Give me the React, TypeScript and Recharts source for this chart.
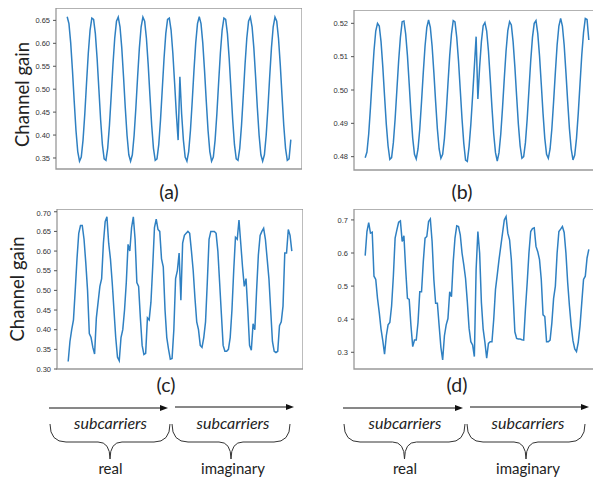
import { LineChart, Line, XAxis, YAxis, ReferenceArea } from "recharts";

// channel gain per subcarrier index: 64 real parts followed by 64 imaginary parts
const gainA = [
    0.658, 0.643, 0.601, 0.541, 0.473, 0.41, 0.364, 0.343, 0.352, 0.389,
    0.446, 0.514, 0.579, 0.629, 0.655, 0.652, 0.621, 0.567, 0.5, 0.433,
    0.379, 0.348, 0.345, 0.371, 0.421, 0.486, 0.554, 0.611, 0.648, 0.657,
    0.636, 0.59, 0.527, 0.459, 0.399, 0.357, 0.343, 0.357, 0.399, 0.459,
    0.527, 0.59, 0.636, 0.657, 0.648, 0.611, 0.554, 0.486, 0.421, 0.371,
    0.345, 0.348, 0.379, 0.433, 0.5, 0.567, 0.621, 0.652, 0.655, 0.629,
    0.579, 0.514, 0.446, 0.389,
    0.527, 0.446, 0.389, 0.352, 0.343, 0.364, 0.41, 0.473, 0.541, 0.601, 0.643, 0.658,
    0.643, 0.601, 0.541, 0.473, 0.41, 0.364, 0.343, 0.352, 0.389, 0.446, 0.514, 0.579, 0.629, 0.655,
    0.652, 0.621, 0.567, 0.5, 0.433, 0.379, 0.348, 0.345, 0.371, 0.421, 0.486, 0.554, 0.611, 0.648,
    0.657, 0.636, 0.59, 0.527, 0.459, 0.399, 0.357, 0.343, 0.357, 0.399, 0.459, 0.527, 0.59, 0.636,
    0.657, 0.648, 0.611, 0.554, 0.486, 0.421, 0.371, 0.345, 0.348, 0.39,
];

const gainB = [
    0.4797, 0.4814, 0.4868, 0.4947, 0.5035, 0.5117, 0.5177, 0.52, 0.5192, 0.5145,
    0.507, 0.4982, 0.4897, 0.4832, 0.4792, 0.4797, 0.4842, 0.4913, 0.5, 0.5087,
    0.5158, 0.5205, 0.5207, 0.5168, 0.5103, 0.5018, 0.493, 0.4855, 0.4807, 0.4793,
    0.4823, 0.4883, 0.4965, 0.5053, 0.5132, 0.5188, 0.521, 0.5188, 0.5132, 0.5053,
    0.4965, 0.4883, 0.4823, 0.4795, 0.4807, 0.4855, 0.493, 0.5018, 0.5103, 0.5168,
    0.5208, 0.5204, 0.5158, 0.5087, 0.5, 0.4913, 0.484, 0.479, 0.4786, 0.483,
    0.4897, 0.4982, 0.507, 0.516, 0.4973, 0.507, 0.5145, 0.5193, 0.5202, 0.5177,
    0.5117, 0.5035, 0.4947, 0.4868, 0.4812, 0.4787, 0.4812, 0.4868, 0.4947, 0.5035,
    0.5117, 0.5178, 0.5205, 0.5195, 0.5145, 0.507, 0.4982, 0.4897, 0.4832, 0.4795,
    0.48, 0.4842, 0.4913, 0.5, 0.5087, 0.5158, 0.52, 0.5208, 0.517, 0.5103,
    0.5018, 0.493, 0.4855, 0.4807, 0.4795, 0.4823, 0.4883, 0.4965, 0.5053, 0.5135,
    0.5192, 0.5215, 0.5192, 0.5135, 0.5053, 0.4965, 0.4883, 0.4823, 0.479, 0.4805,
    0.4855, 0.493, 0.5018, 0.5105, 0.5172, 0.5215, 0.5212, 0.515,
];

const gainC = [
    0.319, 0.37, 0.4, 0.425, 0.5, 0.58, 0.645, 0.665, 0.665, 0.63,
    0.57, 0.5, 0.39, 0.38, 0.355, 0.338, 0.43, 0.47, 0.51, 0.53,
    0.62, 0.675, 0.687, 0.62, 0.58, 0.52, 0.45, 0.38, 0.33, 0.321,
    0.38, 0.4, 0.45, 0.52, 0.617, 0.6, 0.66, 0.687, 0.63, 0.52,
    0.51, 0.43, 0.36, 0.337, 0.34, 0.43, 0.425, 0.47, 0.56, 0.66,
    0.681, 0.655, 0.65, 0.58, 0.56, 0.45, 0.38, 0.35, 0.325, 0.327,
    0.4, 0.53, 0.55, 0.595, 0.475, 0.62, 0.64, 0.645, 0.65, 0.645,
    0.6, 0.55, 0.48, 0.42, 0.4, 0.36, 0.355, 0.38, 0.42, 0.52,
    0.63, 0.65, 0.65, 0.65, 0.645, 0.6, 0.52, 0.44, 0.36, 0.345,
    0.345, 0.35, 0.38, 0.45, 0.55, 0.635, 0.63, 0.679, 0.62, 0.56,
    0.51, 0.53, 0.45, 0.36, 0.348, 0.415, 0.4, 0.5, 0.59, 0.64,
    0.65, 0.658, 0.63, 0.58, 0.53, 0.45, 0.37, 0.345, 0.342, 0.345,
    0.41, 0.42, 0.46, 0.595, 0.595, 0.655, 0.64, 0.6,
];

const gainD = [
    0.592, 0.665, 0.692, 0.66, 0.663, 0.53, 0.52, 0.463, 0.42, 0.37,
    0.335, 0.294, 0.35, 0.383, 0.39, 0.44, 0.53, 0.645, 0.67, 0.693,
    0.697, 0.635, 0.652, 0.55, 0.463, 0.46, 0.38, 0.317, 0.337, 0.337,
    0.39, 0.483, 0.483, 0.574, 0.645, 0.65, 0.695, 0.703, 0.635, 0.52,
    0.448, 0.448, 0.38, 0.315, 0.277, 0.35, 0.383, 0.402, 0.483, 0.468,
    0.574, 0.645, 0.682, 0.68, 0.655, 0.6, 0.564, 0.523, 0.453, 0.373,
    0.332, 0.322, 0.287, 0.55, 0.665, 0.6, 0.45, 0.37, 0.33, 0.282,
    0.327, 0.332, 0.332, 0.4, 0.49, 0.534, 0.58, 0.62, 0.66, 0.7,
    0.71, 0.66, 0.64, 0.58, 0.473, 0.362, 0.342, 0.34, 0.34, 0.338,
    0.337, 0.43, 0.51, 0.6, 0.665, 0.674, 0.676, 0.62, 0.604, 0.58,
    0.52, 0.413, 0.408, 0.332, 0.332, 0.337, 0.388, 0.463, 0.5, 0.6,
    0.665, 0.672, 0.68, 0.662, 0.6, 0.51, 0.44, 0.38, 0.335, 0.31,
    0.302, 0.33, 0.38, 0.45, 0.52, 0.53, 0.585, 0.611,
];

const xTicks = [0, 20, 40, 60, 80, 100, 120];
const yTicksA = [0.35, 0.4, 0.45, 0.5, 0.55, 0.6, 0.65];
const yTicksB = [0.48, 0.49, 0.5, 0.51, 0.52];
const yTicksC = [0.3, 0.35, 0.4, 0.45, 0.5, 0.55, 0.6, 0.65, 0.7];
const yTicksD = [0.3, 0.4, 0.5, 0.6, 0.7];

const captions = ["(a)", "(b)", "(c)", "(d)"];
const axisTitle = "Channel gain";
const arrowWord = "subcarriers";
const partNames = ["real", "imaginary"];

const X_DOMAIN: [number, number] = [-6.35, 133.35];
const PLOT_W = 246;
const AXIS_W = 50;
const XAXIS_H = 8;
const LINE_COLOR = "#2f80c2";
const TEXT_FONT = "Lato, 'Open Sans', sans-serif";

interface PanelProps {
    values: number[];
    left: number;
    top: number;
    height: number;
    domain: [number, number];
    ticks: number[];
    digits: number;
}

const GainPanel = ({ values, left, top, height, domain, ticks, digits }: PanelProps) => {
    const rows = values.map((v, i) => ({ i, v }));
    return (
        <div style={{ position: "absolute", left: left - AXIS_W, top }}>
            <LineChart width={AXIS_W + PLOT_W} height={height + XAXIS_H} data={rows} margin={{ top: 0, right: 0, bottom: 0, left: 0 }}>
                <XAxis
                    dataKey="i"
                    type="number"
                    domain={X_DOMAIN}
                    ticks={xTicks}
                    allowDataOverflow
                    tick={false}
                    tickSize={3.5}
                    axisLine={false}
                    stroke="#555"
                    height={XAXIS_H}
                />
                <YAxis
                    type="number"
                    domain={domain}
                    ticks={ticks}
                    allowDataOverflow
                    width={AXIS_W}
                    tickSize={3}
                    tickMargin={3}
                    axisLine={false}
                    stroke="#555"
                    tickFormatter={(t: number) => t.toFixed(digits)}
                    tick={{ fontSize: 7.5, fontFamily: "'Liberation Sans', Arial, sans-serif", fill: "#333" }}
                />
                <ReferenceArea
                    x1={X_DOMAIN[0]}
                    x2={X_DOMAIN[1]}
                    y1={domain[0]}
                    y2={domain[1]}
                    fill="none"
                    stroke="#999"
                    strokeWidth={1.3}
                    ifOverflow="visible"
                />
                <Line type="linear" dataKey="v" stroke={LINE_COLOR} strokeWidth={1.5} dot={false} isAnimationActive={false} />
            </LineChart>
        </div>
    );
};

// curly brace opening downwards, ends at yTop, tip at yTip
const bracePath = (x0: number, x1: number, yTop: number, yMid: number, yTip: number) => {
    const xc = (x0 + x1) / 2;
    return `M${x0},${yTop} Q${x0},${yMid} ${x0 + 16},${yMid} L${xc - 12},${yMid} Q${xc},${yMid} ${xc},${yTip} ` +
        `Q${xc},${yMid} ${xc + 12},${yMid} L${x1 - 16},${yMid} Q${x1},${yMid} ${x1},${yTop}`;
};

const Arrow = ({ x0, x1, y }: { x0: number; x1: number; y: number }) => (
    <g>
        <line x1={x0} y1={y} x2={x1 - 6} y2={y} stroke="#111" strokeWidth={1} />
        <polygon points={`${x1},${y} ${x1 - 8},${y - 3} ${x1 - 8},${y + 3}`} fill="#111" />
    </g>
);

const SubcarrierGroup = ({ x0, mid, x1 }: { x0: number; mid: number; x1: number }) => (
    <g>
        <Arrow x0={x0} x1={mid - 2} y={408} />
        <Arrow x0={mid + 5} x1={x1} y={407} />
        <text x={(x0 + mid) / 2 + 1} y={429} textAnchor="middle" fontStyle="italic" fontSize={16} fill="#222">
            {arrowWord}
        </text>
        <text x={(mid + x1) / 2 + 1} y={429} textAnchor="middle" fontStyle="italic" fontSize={16} fill="#222">
            {arrowWord}
        </text>
        <path d={bracePath(x0 + 1, mid, 424, 442, 459)} fill="none" stroke="#333" strokeWidth={1} />
        <path d={bracePath(mid + 2, x1 - 4, 424, 442, 459)} fill="none" stroke="#333" strokeWidth={1} />
        <text x={(x0 + mid) / 2 + 1} y={474} textAnchor="middle" fontSize={15} fill="#222">
            {partNames[0]}
        </text>
        <text x={(mid + x1) / 2 + 1} y={474} textAnchor="middle" fontSize={15} fill="#222">
            {partNames[1]}
        </text>
    </g>
);

export default function App() {
    return (
        <div style={{ position: "absolute", left: 0, top: 0, width: 593, height: 477, overflow: "hidden", background: "#fff" }}>
            <GainPanel values={gainA} left={56} top={8} height={161} domain={[0.326, 0.677]} ticks={yTicksA} digits={2} />
            <GainPanel values={gainB} left={354} top={9.5} height={160} domain={[0.476, 0.524]} ticks={yTicksB} digits={2} />
            <GainPanel values={gainC} left={57} top={209} height={160} domain={[0.3, 0.707]} ticks={yTicksC} digits={2} />
            <GainPanel values={gainD} left={354} top={209} height={160} domain={[0.2495, 0.733]} ticks={yTicksD} digits={1} />
            <svg width={593} height={477} style={{ position: "absolute", left: 0, top: 0, fontFamily: TEXT_FONT }}>
                <text transform="translate(29,94.5) rotate(-90)" textAnchor="middle" fontSize={18.5} fill="#222">
                    {axisTitle}
                </text>
                <text transform="translate(24,289) rotate(-90)" textAnchor="middle" fontSize={18.5} fill="#222">
                    {axisTitle}
                </text>
                <text x={169} y={199} textAnchor="middle" fontSize={19.5} fill="#222">{captions[0]}</text>
                <text x={462} y={199} textAnchor="middle" fontSize={19.5} fill="#222">{captions[1]}</text>
                <text x={166} y={392} textAnchor="middle" fontSize={19.5} fill="#222">{captions[2]}</text>
                <text x={457} y={392} textAnchor="middle" fontSize={19.5} fill="#222">{captions[3]}</text>
                <SubcarrierGroup x0={49} mid={170} x1={294} />
                <SubcarrierGroup x0={343} mid={465} x1={589} />
            </svg>
        </div>
    );
}
